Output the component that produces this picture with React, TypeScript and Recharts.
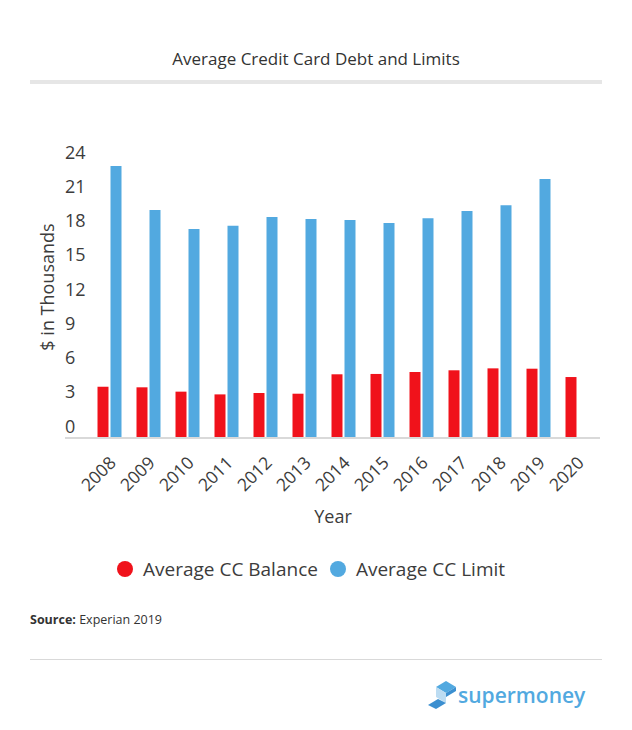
import { BarChart, Bar, XAxis, YAxis } from "recharts";

const years = ["2008", "2009", "2010", "2011", "2012", "2013", "2014", "2015", "2016", "2017", "2018", "2019", "2020"];
const avgBalance = [4.49, 4.44, 4.06, 3.82, 3.94, 3.88, 5.58, 5.61, 5.78, 5.93, 6.1, 6.07, 5.34];
const avgLimit = [23.82, 19.97, 18.31, 18.6, 19.36, 19.18, 19.09, 18.83, 19.24, 19.88, 20.38, 22.69, null];
const yTicks = [0, 3, 6, 9, 12, 15, 18, 21, 24];

const data = years.map((year, i) => ({ year, balance: avgBalance[i], limit: avgLimit[i] }));

const FONT = "'Open Sans', 'Noto Sans', sans-serif";
const TEXT = "#3c3c3c";
const RED = "#f0121b";
const BLUE = "#52a9e0";

function YTick({ y, payload }: any) {
  return (
    <text x={65} y={y - 12} dy={6.5} textAnchor="start" fontSize={18} fontFamily={FONT} fill={TEXT}>
      {payload.value}
    </text>
  );
}

function XTick({ x, y, payload }: any) {
  return (
    <g transform={`translate(${x + 8},${y + 18})`}>
      <text textAnchor="end" transform="rotate(-45)" fontSize={17.5} fontFamily={FONT} fill={TEXT}>
        {payload.value}
      </text>
    </g>
  );
}

export default function App() {
  const legendItems = [
    { label: "Average CC Balance", color: RED },
    { label: "Average CC Limit", color: BLUE },
  ];
  return (
    <div style={{ position: "absolute", left: 0, top: 0, width: 632, height: 730, background: "#fff", fontFamily: FONT }}>
      <div style={{ position: "absolute", top: 47, width: 632, textAlign: "center", fontSize: 17, color: "#333" }}>
        Average Credit Card Debt and Limits
      </div>
      <div style={{ position: "absolute", left: 30, top: 80, width: 572, height: 4, background: "#e6e6e6" }} />

      <div style={{ position: "absolute", left: 0, top: 0 }}>
        <BarChart
          width={632}
          height={552}
          data={data}
          margin={{ top: 164, right: 32, left: 45, bottom: 0 }}
          barSize={11}
          barGap={2}
        >
          <XAxis
            dataKey="year"
            tick={<XTick />}
            tickLine={false}
            axisLine={{ stroke: "#d9d9d9", strokeWidth: 2 }}
            padding={{ left: 24.5, right: 3.5 }}
            interval={0}
            height={114}
          />
          <YAxis domain={[0, 24]} ticks={yTicks} tick={<YTick />} axisLine={false} tickLine={false} width={20} />
          <Bar dataKey="balance" fill={RED} isAnimationActive={false} />
          <Bar dataKey="limit" fill={BLUE} isAnimationActive={false} />
        </BarChart>
      </div>

      <div
        style={{
          position: "absolute",
          left: 47,
          top: 287,
          transform: "translate(-50%, -50%) rotate(-90deg)",
          fontSize: 18,
          color: TEXT,
          whiteSpace: "nowrap",
        }}
      >
        $ in Thousands
      </div>
      <div style={{ position: "absolute", top: 504, left: 0, width: 632, paddingLeft: 34, boxSizing: "border-box", textAlign: "center", fontSize: 18, color: TEXT }}>
        Year
      </div>

      <div style={{ position: "absolute", left: 117, top: 556, display: "flex", gap: 12, fontSize: 19, color: TEXT, lineHeight: "26px" }}>
        {legendItems.map((it) => (
          <div key={it.label} style={{ display: "flex", alignItems: "center" }}>
            <span style={{ width: 16, height: 16, borderRadius: 8, background: it.color, marginRight: 10, display: "inline-block" }} />
            {it.label}
          </div>
        ))}
      </div>

      <div style={{ position: "absolute", left: 30, top: 611, fontSize: 12.5, color: "#333" }}>
        <b>Source:</b> Experian 2019
      </div>
      <div style={{ position: "absolute", left: 30, top: 659, width: 572, height: 1, background: "#d9d9d9" }} />

      <svg style={{ position: "absolute", left: 426, top: 679 }} width={34} height={32}>
        <polygon points="10,8 20,2 30,8 20,14" fill={BLUE} />
        <polygon points="10,8 20,14 20,24 10,18" fill="#bcdcf2" />
        <polygon points="2,26 12,20 20,24 10,30" fill="#3b8fd0" />
        <polygon points="20,14 30,8 30,12 20,18" fill="#3b8fd0" />
      </svg>
      <div style={{ position: "absolute", left: 458, top: 681, fontSize: 21, fontWeight: 600, color: BLUE }}>
        supermoney
      </div>
    </div>
  );
}
